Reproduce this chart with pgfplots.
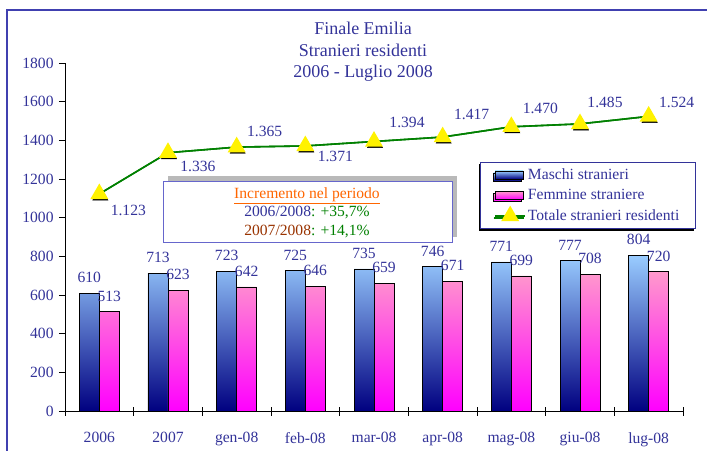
\documentclass[border=0pt]{standalone}
\usepackage{fontspec}
\setmainfont{Liberation Serif}
\usepackage{pgfplots}
\usepackage{pgfplotstable}
\pgfplotsset{compat=1.18}
\usetikzlibrary{shadows}
\definecolor{tblue}{RGB}{51,51,153}
\definecolor{lblue}{RGB}{153,204,255}
\definecolor{navy}{RGB}{0,0,128}
\definecolor{lpink}{RGB}{255,153,204}
\definecolor{magen}{RGB}{255,0,255}
\definecolor{lgreen}{RGB}{0,128,0}
\definecolor{orng}{RGB}{255,102,0}
\definecolor{brwn}{RGB}{153,51,0}
\definecolor{frameblue}{RGB}{64,64,176}
\definecolor{boxblue}{RGB}{102,102,204}

\pgfplotsset{
  barlegend/.style={legend image code/.code={\draw[##1] (2pt,-4pt) rectangle (30pt,4pt);}},
  linelegend/.style={legend image code/.code={\draw[mark repeat=2,mark phase=2,##1] plot coordinates {(2pt,0pt) (17pt,0pt) (32pt,0pt)};}},
}

\pgfplotstableread{
x m f
0 610 513
1 713 623
2 723 642
3 725 646
4 735 659
5 746 671
6 771 699
7 777 708
8 804 720
}\bars

\pgfplotstableread{
x y lab dx dy
0 1123 1.123 29 -17
1 1336 1.336 30 -14
2 1365 1.365 28 16
3 1371 1.371 30 -11
4 1394 1.394 33 19
5 1417 1.417 29 23
6 1470 1.470 29 18
7 1485 1.485 25 21
8 1524 1.524 28 14
}\tot

\newcommand{\ff}{\fontsize{15.6}{18.5}\selectfont}

\begin{document}
\ff
\begin{tikzpicture}[x=1pt,y=1pt]
\begin{axis}[
  scale only axis,
  width=618pt, height=348pt,
  xmin=-0.5, xmax=8.5, ymin=0, ymax=1800,
  axis lines*=left, axis line style={black, line width=0.8pt, -},
  ytick={0,200,...,1800},
  xtick={0,...,8},
  xticklabels={2006,2007,gen-08,feb-08,mar-08,apr-08,mag-08,giu-08,lug-08},
  minor xtick={-0.5,0.5,...,8.5},
  major x tick style={draw=none},
  xtick align=center, ytick align=outside,
  major tick length=6pt, minor tick length=9pt,
  tick style={black, line width=0.8pt},
  /pgf/number format/assume math mode=true,
  yticklabel style={/pgf/number format/1000 sep={}},
  ticklabel style={font=\ff, text=tblue},
  xticklabel style={yshift=-13pt},
  legend cell align=left,
  legend style={at={(0.6715,0.7155)}, anchor=north west, draw=tblue, line width=0.8pt, fill=white,
    font=\ff, text=tblue, inner xsep=14pt, inner ysep=4pt, row sep=3.5pt,
    drop shadow={shadow xshift=-1.5pt, shadow yshift=-2pt, fill=black, opacity=1}},
]
\coordinate (O) at (axis cs:-0.5,0);
\addplot[ybar, bar width=20pt, bar shift=-10pt, draw=black, line width=0.7pt,
  top color=lblue, bottom color=navy, barlegend,
  nodes near coords,
  every node near coord/.append style={text=tblue, font=\ff, xshift=-10pt, yshift=5pt, shade=false, fill=none, draw=none}]
  table[x=x,y=m]{\bars};
\addlegendentry{Maschi stranieri}
\addplot[ybar, bar width=20pt, bar shift=10pt, draw=black, line width=0.7pt,
  top color=lpink, bottom color=magen, barlegend,
  nodes near coords,
  every node near coord/.append style={text=tblue, font=\ff, xshift=10pt, yshift=5pt, shade=false, fill=none, draw=none}]
  table[x=x,y=f]{\bars};
\addlegendentry{Femmine straniere}
\addplot[forget plot, lgreen, line width=1.6pt, mark=none] table[x=x,y=y]{\tot};
\addplot[forget plot, only marks, mark=triangle*, mark size=8.8pt,
  mark options={fill=black, draw=black, xshift=1pt, yshift=-1.8pt}] table[x=x,y=y]{\tot};
\addplot[lgreen, line width=1.6pt, mark=triangle*, mark size=8.8pt,
  mark options={fill=yellow, draw=yellow, solid}, linelegend]
  table[x=x,y=y]{\tot};
\addlegendentry{Totale stranieri residenti}
\addplot[forget plot, draw=none, mark=none, nodes near coords, point meta=explicit symbolic,
  visualization depends on={\thisrow{dx}\as\dx},
  visualization depends on={\thisrow{dy}\as\dy},
  every node near coord/.append style={anchor=center, xshift=\dx pt, yshift=\dy pt, text=tblue, font=\ff}]
  table[x=x,y=y,meta=lab]{\tot};
\end{axis}
\begin{scope}[shift={(O)}, shift={(-65,-39)}]
\draw[frameblue, line width=2.2pt] (7,-10) -- (7,440) -- (720,440);
\node[text=tblue, align=center, font=\fontsize{18}{21.5}\selectfont] at (363,398) {Finale Emilia\\Stranieri residenti\\2006 - Luglio 2008};
\fill[gray!55] (168,274) rectangle (457,213);
\draw[boxblue, line width=1pt, fill=white] (163,268) rectangle (452,207);
\node[text=orng, font=\ff] at (307,254) {\underline{Incremento nel periodo}};
\node[font=\ff] at (307,237) {\textcolor{tblue}{2006/2008}\textcolor{lgreen}{: +35,7\%}};
\node[font=\ff] at (307,218) {\textcolor{brwn}{2007/2008}\textcolor{lgreen}{: +14,1\%}};
\pgfresetboundingbox
\path[use as bounding box] (0,0) rectangle (707,450);
\end{scope}
\end{tikzpicture}
\end{document}
